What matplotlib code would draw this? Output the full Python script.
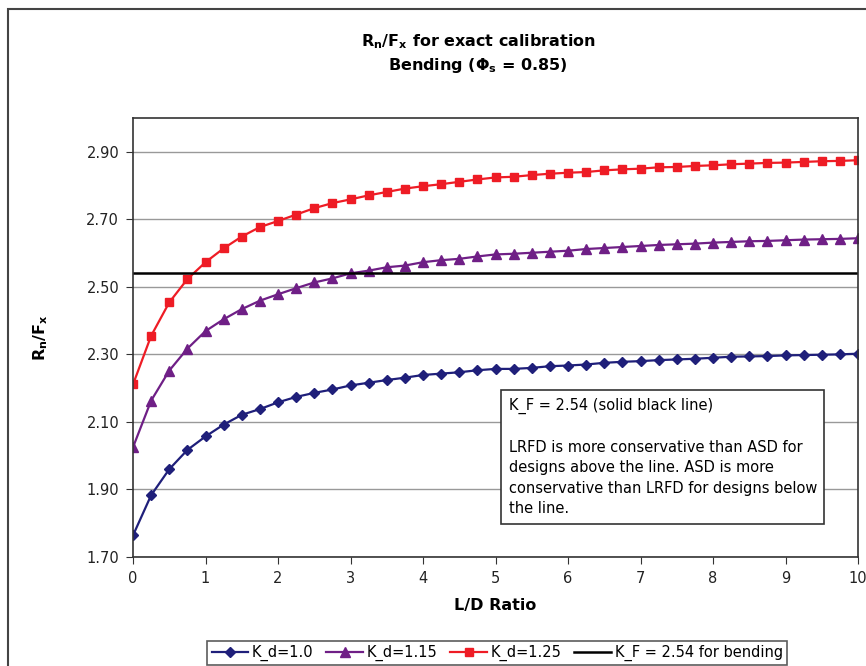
import numpy as np
import matplotlib.pyplot as plt
from matplotlib.patches import Rectangle

# L/D ratio steps
ld_ratio = [i * 0.25 for i in range(41)]

kd_100 = [1.764, 1.883, 1.960, 2.017, 2.057, 2.092, 2.121, 2.138, 2.158, 2.174,
          2.186, 2.196, 2.208, 2.216, 2.224, 2.231, 2.239, 2.243, 2.247, 2.253,
          2.257, 2.257, 2.260, 2.265, 2.267, 2.270, 2.275, 2.278, 2.280, 2.283,
          2.285, 2.287, 2.290, 2.293, 2.294, 2.295, 2.297, 2.298, 2.299, 2.300,
          2.302]
kd_115 = [2.025, 2.163, 2.252, 2.317, 2.369, 2.404, 2.434, 2.459, 2.478, 2.496,
          2.513, 2.525, 2.540, 2.548, 2.558, 2.563, 2.573, 2.579, 2.583, 2.590,
          2.596, 2.598, 2.601, 2.604, 2.607, 2.612, 2.615, 2.618, 2.621, 2.624,
          2.626, 2.628, 2.631, 2.633, 2.635, 2.636, 2.638, 2.640, 2.641, 2.642,
          2.644]
kd_125 = [2.211, 2.355, 2.454, 2.523, 2.573, 2.614, 2.649, 2.677, 2.695, 2.714,
          2.733, 2.748, 2.759, 2.771, 2.781, 2.791, 2.798, 2.804, 2.811, 2.818,
          2.824, 2.826, 2.831, 2.835, 2.838, 2.840, 2.845, 2.848, 2.850, 2.854,
          2.855, 2.858, 2.860, 2.863, 2.865, 2.867, 2.868, 2.870, 2.872, 2.873,
          2.875]
k_f = 2.54

y_ticks = [1.70, 1.90, 2.10, 2.30, 2.50, 2.70, 2.90]
x_ticks = list(range(11))

note = ("K_F = 2.54 (solid black line)\n\n"
        "LRFD is more conservative than ASD for\n"
        "designs above the line. ASD is more\n"
        "conservative than LRFD for designs below\n"
        "the line.")

plt.rcParams['font.family'] = ['DejaVu Sans']

fig = plt.figure(figsize=(8.66, 6.66), dpi=100)
ax = fig.add_axes([0.1536, 0.1637, 0.8372, 0.6591])

# chart area border (right and bottom run off the picture)
fig.patches.append(Rectangle((8 / 866, -0.02), 1.05, 1 - 9 / 666 + 0.02,
                             transform=fig.transFigure, fill=False,
                             edgecolor='#444444', linewidth=1.5))

ax.plot(ld_ratio, kd_100, color='#1f1f7a', marker='D', markersize=5.5, linewidth=1.6,
        label='K_d=1.0')
ax.plot(ld_ratio, kd_115, color='#6f1f86', marker='^', markersize=7, linewidth=1.6,
        label='K_d=1.15')
ax.plot(ld_ratio, kd_125, color='#ee1c25', marker='s', markersize=5.5, linewidth=1.6,
        label='K_d=1.25')
ax.axhline(k_f, color='black', linewidth=1.8, label='K_F = 2.54 for bending')

ax.set_xlim(0, 10)
ax.set_ylim(1.70, 3.00)
ax.set_xticks(x_ticks)
ax.set_yticks(y_ticks)
ax.set_yticklabels(['%.2f' % v for v in y_ticks])
ax.yaxis.grid(True, color='#999999', linewidth=1.0)
ax.set_axisbelow(True)
ax.tick_params(labelsize=10.5, color='#333333', length=5, pad=5, labelcolor='#222222')
for s in ax.spines.values():
    s.set_color('#333333')
    s.set_linewidth(1.2)

ax.set_xlabel('L/D Ratio', fontsize=11.5, fontweight='bold', labelpad=9)
ax.set_ylabel(r'R$_\mathregular{n}$/F$_\mathregular{x}$', fontsize=11.5, fontweight='bold',
              labelpad=26)

fig.text(0.552, 0.937, r'R$_\mathregular{n}$/F$_\mathregular{x}$ for exact calibration',
         ha='center', va='center', fontsize=11.5, fontweight='bold')
fig.text(0.552, 0.901, r'Bending ($\mathbf{\Phi}_\mathregular{s}$ = 0.85)',
         ha='center', va='center', fontsize=11.5, fontweight='bold')

ax.text(0.518, 0.362, note, transform=ax.transAxes, ha='left', va='top', fontsize=10.5,
        linespacing=1.45,
        bbox=dict(boxstyle='square,pad=0.5', facecolor='white', edgecolor='#333333',
                  linewidth=1.2))

leg = fig.legend(loc='center', bbox_to_anchor=(0.574, 0.0195), ncol=4, fontsize=10.5,
                 frameon=True, fancybox=False, edgecolor='#333333', handlelength=2.5,
                 handletextpad=0.25, columnspacing=0.9, borderpad=0.3,
                 borderaxespad=0.0)
leg.get_frame().set_linewidth(1.2)

fig.savefig('out.png', dpi=100)
